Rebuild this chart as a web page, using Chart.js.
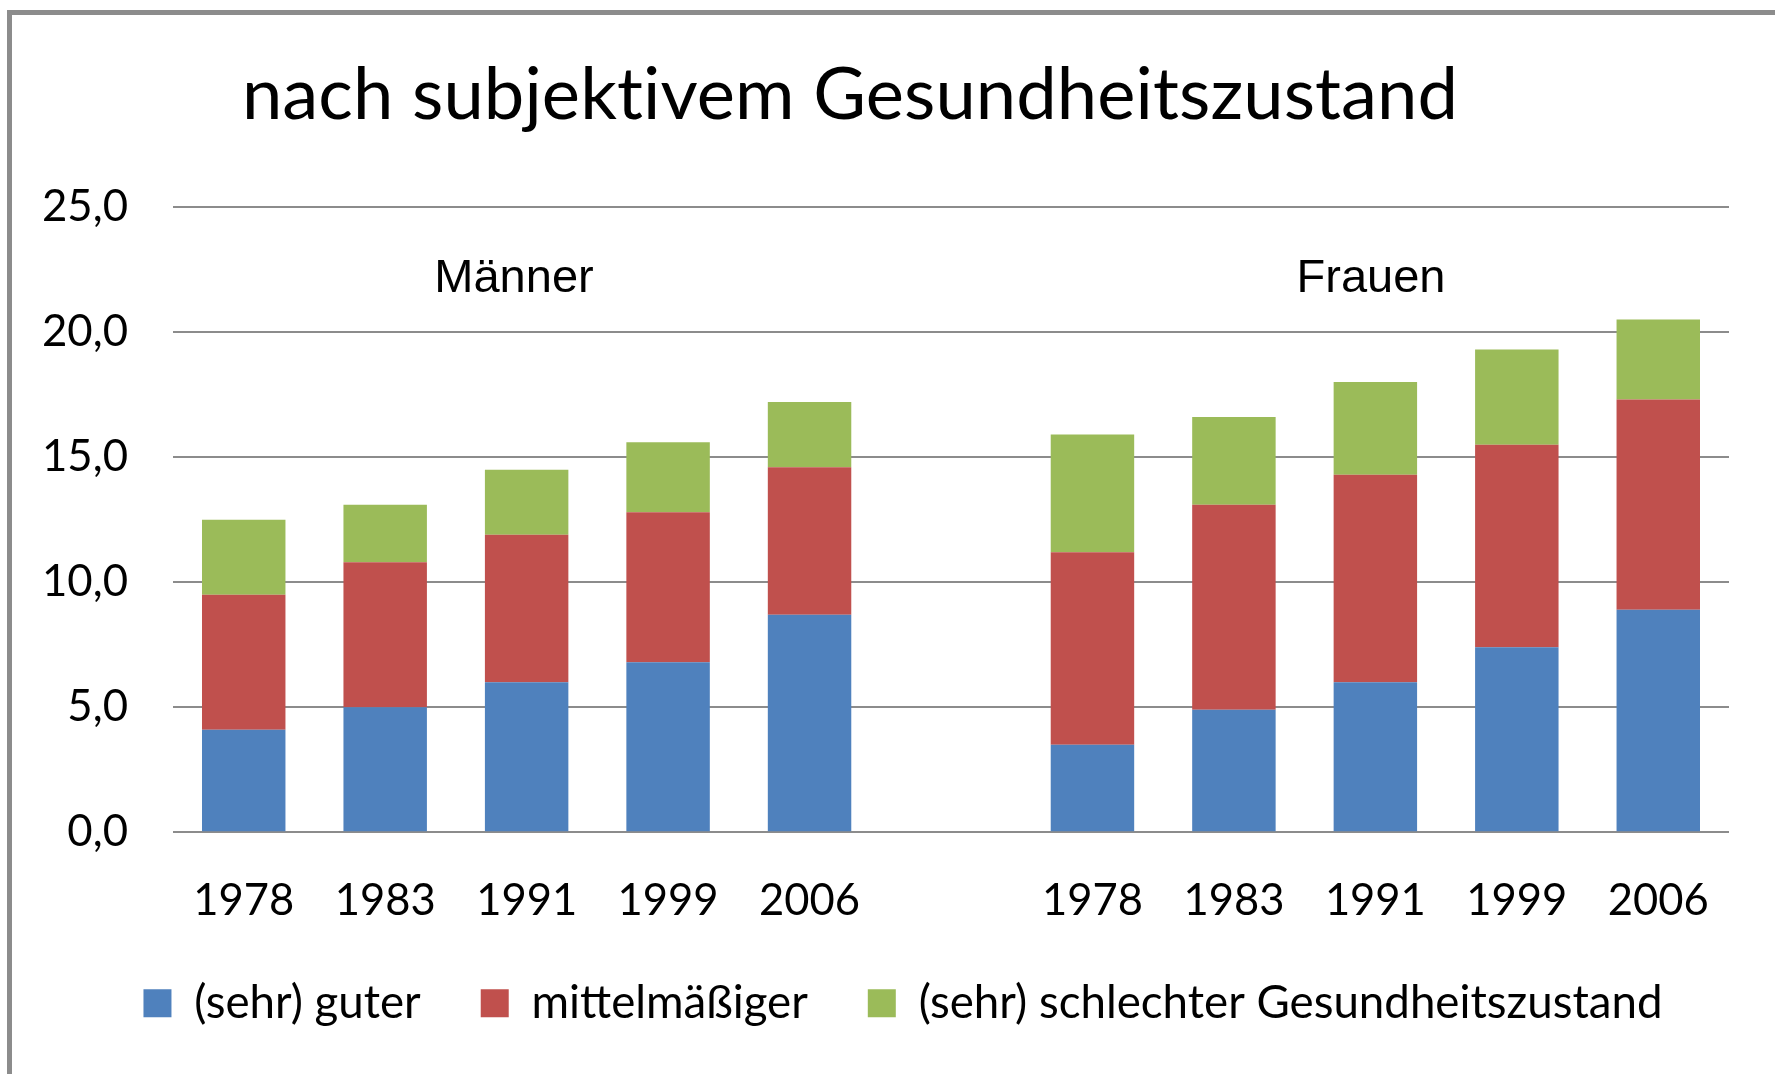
<!DOCTYPE html>
<html><head><meta charset="utf-8">
<script src="https://cdn.jsdelivr.net/npm/chart.js@4.4.0/dist/chart.umd.min.js"></script>
<style>html,body{margin:0;padding:0;background:#fff;overflow:hidden}canvas{display:block}</style>
</head><body>
<canvas id="c" width="1775" height="1074"></canvas>
<script>
// ---- data ----
const chartTitle = 'nach subjektivem Gesundheitszustand';
const groupLabels = ['Männer', 'Frauen'];
const years = ['1978', '1983', '1991', '1999', '2006'];
const seriesNames = ['(sehr) guter', 'mittelmäßiger', '(sehr) schlechter Gesundheitszustand'];
const maennerGut = [4.1, 5.0, 6.0, 6.8, 8.7];
const maennerMittel = [5.4, 5.8, 5.9, 6.0, 5.9];
const maennerSchlecht = [3.0, 2.3, 2.6, 2.8, 2.6];
const frauenGut = [3.5, 4.9, 6.0, 7.4, 8.9];
const frauenMittel = [7.7, 8.2, 8.3, 8.1, 8.4];
const frauenSchlecht = [4.7, 3.5, 3.7, 3.8, 3.2];
const yTickValues = [0, 5, 10, 15, 20, 25];
const yTickLabels = ['0,0', '5,0', '10,0', '15,0', '20,0', '25,0'];

// ---- styling ----
const colors = ['#4F81BD', '#C0504D', '#9BBB59'];
const FONT = 'Lato, "Open Sans", sans-serif';
const mc = document.createElement('canvas').getContext('2d');
function fit(text, family, target) {
  mc.font = '100px ' + family;
  return 100 * target / mc.measureText(text).width;
}
const titleSize = fit(chartTitle, FONT, 1214);
const xTickSize = fit('1978', FONT, 101);
const yTickSize = fit('25,0', FONT, 86);
const legendSize = fit(seriesNames[2], FONT, 744);

const categories = [...years, '', ...years];
const join = (a, b) => [...a, null, ...b];
const seriesData = [
  join(maennerGut, frauenGut),
  join(maennerMittel, frauenMittel),
  join(maennerSchlecht, frauenSchlecht)
];

const decor = {
  id: 'decor',
  afterLayout(chart) {
    // widen the y-axis label clip area so left labels are not cut
    chart.scales.y.left = 0;
  },
  beforeDraw(chart) {
    const ctx = chart.ctx;
    ctx.save();
    ctx.fillStyle = '#ffffff';
    ctx.fillRect(0, 0, chart.width, chart.height);
    ctx.fillStyle = '#8c8c8c';
    ctx.fillRect(7, 10, 5, chart.height - 10);
    ctx.fillRect(7, 10, chart.width - 7, 5);
    ctx.restore();
  },
  afterDraw(chart) {
    const ctx = chart.ctx;
    ctx.save();
    ctx.fillStyle = '#000';
    ctx.textAlign = 'center';
    ctx.textBaseline = 'alphabetic';
    ctx.font = titleSize.toFixed(1) + 'px ' + FONT;
    if ('letterSpacing' in ctx) ctx.letterSpacing = '0.1px';
    ctx.fillText(chartTitle, 850, 119);
    if ('letterSpacing' in ctx) ctx.letterSpacing = '0px';
    ctx.font = '47px "Liberation Sans", Arial, sans-serif';
    ctx.fillText(groupLabels[0], 514, 292);
    ctx.fillText(groupLabels[1], 1371, 292);
    ctx.restore();
  }
};

new Chart(document.getElementById('c'), {
  type: 'bar',
  data: {
    labels: categories,
    datasets: seriesNames.map((name, i) => ({
      label: name,
      data: seriesData[i],
      backgroundColor: colors[i],
      borderWidth: 0,
      barPercentage: 0.59,
      categoryPercentage: 1.0
    }))
  },
  options: {
    responsive: false,
    devicePixelRatio: 1,
    animation: false,
    layout: { padding: { left: 77, right: 46, top: 207, bottom: 38 } },
    plugins: {
      title: { display: false },
      tooltip: { enabled: false },
      legend: {
        position: 'bottom',
        labels: {
          boxWidth: 28,
          boxHeight: 28,
          padding: 60,
          color: '#000',
          font: { family: FONT, size: legendSize }
        }
      }
    },
    scales: {
      x: {
        stacked: true,
        grid: { display: false, drawTicks: false },
        border: { display: false },
        ticks: {
          color: '#000',
          padding: 43,
          maxRotation: 0,
          autoSkip: false,
          font: { family: FONT, size: xTickSize }
        },
        afterFit(s) { s.height = 88; }
      },
      y: {
        stacked: true,
        min: 0,
        max: 25,
        afterBuildTicks(s) { s.ticks = yTickValues.map(v => ({ value: v })); },
        grid: { color: '#8c8c8c', lineWidth: 2, drawTicks: false },
        border: { display: false },
        ticks: {
          color: '#000',
          padding: 45,
          font: { family: FONT, size: yTickSize },
          callback: (v) => yTickLabels[yTickValues.indexOf(v)]
        },
        afterFit(s) { s.width = 96; }
      }
    }
  },
  plugins: [decor]
});
</script>
</body></html>
